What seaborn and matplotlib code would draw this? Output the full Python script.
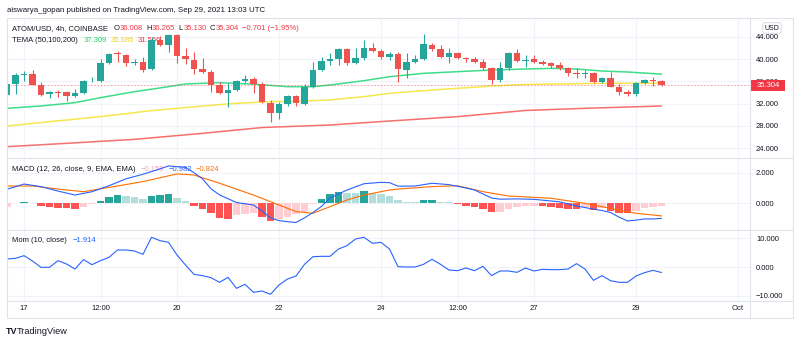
import numpy as np
import pandas as pd
import matplotlib
matplotlib.use("Agg")
import matplotlib.pyplot as plt
import seaborn as sns
from matplotlib.patches import Rectangle
from matplotlib.lines import Line2D
import matplotlib.transforms as mtransforms

# ---------------- data (4h candles, index 0 = Sep 16 16:00) ----------------
opens = [33.55, 35.53, 37.15, 37.27, 35.35, 33.67, 34.09, 34.15, 33.43, 33.85,
         36.01, 36.07, 39.38, 41.06, 40.76, 39.38, 39.44, 38.17, 43.46, 42.56,
         44.36, 40.64, 39.86, 38.17, 37.75, 35.29, 33.85, 34.45, 36.07, 36.43,
         35.47, 32.17, 30.37, 31.87, 33.43, 31.93, 35.05, 38.05, 39.74, 40.04,
         41.78, 39.26, 40.16, 42.08, 41.54, 40.46, 40.88, 38.05, 39.44, 39.98,
         42.56, 41.78, 40.46, 41.06, 40.16, 40.04, 39.56, 38.35, 36.25, 38.35,
         41.06, 39.74, 39.98, 39.56, 39.26, 38.96, 38.47, 37.45, 37.33, 37.57,
         35.95, 36.55, 35.05, 34.15, 33.73, 35.65, 36.25, 36.008]
highs = [35.65, 37.45, 37.93, 38.05, 35.83, 34.33, 34.45, 34.33, 34.63, 36.25,
         36.73, 39.98, 41.06, 41.54, 40.94, 39.98, 40.46, 44.06, 44.18, 44.54,
         44.54, 41.96, 41.36, 40.16, 38.05, 35.95, 35.65, 36.25, 37.15, 36.85,
         35.95, 32.65, 32.35, 33.55, 33.55, 35.53, 39.44, 40.34, 41.06, 41.96,
         41.96, 41.96, 43.46, 42.86, 41.78, 41.36, 41.36, 41.06, 40.76, 44.54,
         42.86, 42.56, 41.96, 41.24, 40.46, 40.34, 39.98, 38.65, 39.56, 41.36,
         41.78, 40.76, 40.76, 39.86, 39.56, 39.56, 38.65, 38.35, 38.05, 37.75,
         36.73, 37.75, 35.53, 34.45, 35.95, 36.43, 36.73, 36.265]
lows = [33.37, 33.73, 36.13, 35.35, 33.37, 32.95, 33.13, 32.53, 33.25, 33.73,
        35.83, 35.95, 39.14, 39.56, 38.77, 38.96, 37.75, 38.05, 42.38, 41.36,
        39.26, 39.14, 37.33, 37.45, 34.15, 33.73, 31.33, 34.33, 35.77, 33.85,
        32.05, 28.74, 29.23, 31.57, 31.57, 31.75, 34.75, 37.93, 38.96, 38.96,
        38.96, 39.14, 39.86, 41.36, 39.98, 39.86, 35.95, 36.55, 39.26, 39.86,
        41.54, 40.16, 39.26, 39.98, 39.56, 39.26, 38.05, 35.53, 35.95, 38.05,
        39.56, 38.65, 39.26, 38.96, 38.35, 38.05, 37.03, 36.55, 36.55, 35.65,
        35.77, 35.05, 33.55, 33.37, 33.37, 35.53, 35.17, 35.130]
closes = [35.47, 37.15, 37.33, 35.35, 33.55, 34.03, 33.97, 33.43, 33.97, 36.07,
          36.13, 39.38, 40.94, 40.88, 39.38, 39.56, 38.05, 43.46, 42.56, 44.36,
          40.58, 39.98, 38.17, 37.63, 35.29, 33.85, 34.45, 36.07, 36.37, 35.47,
          32.35, 30.37, 31.87, 33.43, 32.05, 35.05, 38.05, 39.74, 39.98, 41.78,
          39.26, 40.16, 42.08, 41.54, 40.46, 40.94, 38.17, 39.44, 39.98, 42.68,
          41.78, 40.46, 41.06, 40.16, 40.04, 39.56, 38.35, 36.25, 38.35, 41.06,
          39.68, 39.86, 39.44, 39.14, 38.83, 38.35, 37.45, 37.27, 37.57, 35.95,
          36.55, 35.05, 34.15, 33.73, 35.65, 36.25, 36.07, 35.304]

# TEMA lines (candle index, value)
tema50_idx = [0, 4, 8, 11, 15, 19, 21, 25, 29, 33, 36, 38, 42, 45, 49, 53, 57, 61, 64, 67, 70, 73, 77]
tema50_val = [31.15, 31.57, 32.17, 33.07, 34.15, 35.05, 35.53, 35.77, 35.50, 35.05, 35.05, 35.35,
              36.13, 36.85, 37.45, 37.75, 38.05, 38.23, 38.35, 38.23, 37.87, 37.69, 37.31]
tema100_idx = [0, 5, 11, 17, 23, 27, 31, 35, 38, 42, 45, 49, 53, 57, 61, 70, 77]
tema100_val = [27.96, 28.74, 29.65, 30.73, 31.57, 32.05, 32.35, 32.47, 32.65, 33.25, 33.85,
               34.33, 34.75, 35.17, 35.45, 35.65, 35.685]
tema200_idx = [0, 7, 15, 23, 30, 38, 45, 53, 61, 68, 77]
tema200_val = [24.24, 24.84, 25.56, 26.64, 27.69, 28.14, 28.86, 29.65, 30.76, 31.15, 31.57]

# MACD
macd_idx = [0, 2, 4, 6, 8, 10, 12, 14, 16, 18, 19, 21, 22, 23, 24, 25, 27, 29, 30, 31, 32, 33, 34,
            35, 36, 37, 38, 40, 42, 44, 45, 46, 48, 50, 52, 54, 55, 57, 58, 60, 62, 65, 67, 70,
            71, 72, 73, 74, 75, 76, 77]
macd_val = [0.92, 1.26, 1.09, 0.80, 0.54, 0.76, 1.15, 1.60, 1.90, 2.25, 2.44, 2.35, 2.00, 1.60,
            0.95, 0.55, 0.05, -0.11, -0.50, -0.95, -1.13, -1.20, -1.25, -0.95, -0.60, -0.20, 0.35,
            0.87, 1.28, 1.37, 1.35, 1.12, 1.13, 1.31, 1.22, 1.00, 0.87, 0.35, 0.27, 0.29, 0.26,
            0.10, -0.18, -0.47, -0.60, -0.90, -1.15, -1.10, -1.02, -1.02, -0.982]
signal_idx = [0, 3, 7, 9, 13, 16, 20, 22, 25, 29, 32, 34, 36, 38, 40, 42, 45, 46, 50, 53, 56, 59,
              64, 68, 72, 74, 77]
signal_val = [1.13, 1.13, 0.87, 0.76, 1.13, 1.42, 1.92, 1.85, 1.31, 0.54, -0.11, -0.54, -0.65,
              -0.22, 0.22, 0.54, 0.87, 0.93, 1.09, 1.15, 0.76, 0.48, 0.33, 0.00, -0.44, -0.65, -0.824]
hist = [-0.26, 0.01, 0.11, 0.04, -0.15, -0.24, -0.28, -0.33, -0.35, -0.22,
        -0.07, 0.17, 0.44, 0.54, 0.50, 0.41, 0.26, 0.50, 0.52, 0.63,
        0.33, 0.15, -0.15, -0.37, -0.65, -0.98, -1.02, -0.76, -0.70, -0.65,
        -0.87, -1.13, -1.02, -0.87, -0.70, -0.54, -0.07, 0.28, 0.59, 0.76,
        0.70, 0.68, 0.81, 0.70, 0.59, 0.50, 0.20, 0.11, 0.07, 0.22,
        0.23, 0.11, 0.07, -0.07, -0.15, -0.22, -0.37, -0.59, -0.54, -0.37,
        -0.22, -0.17, -0.15, -0.17, -0.22, -0.28, -0.37, -0.39, -0.26, -0.44,
        -0.33, -0.48, -0.61, -0.62, -0.48, -0.28, -0.22, -0.158]

# Momentum (10)
mom = [2.79, 3.02, 3.95, 2.09, -0.12, -0.12, 2.21, 1.05, -0.70, 2.56,
       0.81, 2.21, 3.37, 5.92, 5.92, 5.57, 4.41, 10.34, 9.18, 8.59,
       4.18, 0.70, -2.56, -3.02, -3.72, -5.34, -3.60, -7.43, -6.04, -8.83,
       -8.36, -9.52, -6.27, -4.18, -3.14, 0.93, 3.60, 3.72, 3.72, 6.27,
       7.43, 9.76, 10.34, 8.25, 8.59, 6.27, 0.12, 0.0, 0.0, 0.93,
       2.67, 0.93, -1.05, -1.28, -0.35, -1.28, 0.23, -3.02, -1.39, -1.39,
       -1.86, -0.35, -1.39, -0.81, -0.93, -0.93, -0.70, 1.16, -0.70, -4.65,
       -3.02, -4.76, -5.34, -5.34, -3.14, -1.97, -1.16, -1.914]

# axis ticks
time_ticks = [2, 11, 20, 32, 44, 53, 62, 74, 86]
time_labels = ["17", "12:00", "20", "22", "24", "12:00", "27", "29", "Oct"]
price_ticks = [24, 28, 32, 36, 40, 44]
macd_ticks = [0, 2]
mom_ticks = [-10, 0, 10]
last_price = 35.304

# ---------------- style ----------------
sns.set_theme(style="white")
plt.rcParams["font.family"] = ["Liberation Sans", "DejaVu Sans"]
plt.rcParams["axes.unicode_minus"] = True

W, H = 800, 343
fig = plt.figure(figsize=(W / 100, H / 100), dpi=100)
fig.patch.set_facecolor("white")


def fx(x):
    return x / W


def fy(y):
    return 1 - y / H


DARK = "#131722"
GRID = "#f0f3fa"
FRAME = "#e0e3eb"
UP = "#26a69a"
DOWN = "#ef5350"

ax_p = fig.add_axes([fx(7), fy(157.5), 743 / W, 139.5 / H])
ax_m = fig.add_axes([fx(7), fy(229.5), 743 / W, 71.5 / H])
ax_o = fig.add_axes([fx(7), fy(300.5), 743 / W, 70.5 / H])

XMAX = 743 / 8.5
for ax in (ax_p, ax_m, ax_o):
    ax.set_facecolor("white")
    ax.set_xlim(0, XMAX)
    for s in ax.spines.values():
        s.set_visible(False)
    ax.set_xticks(time_ticks)
    ax.grid(True, color=GRID, lw=0.8)
    ax.set_axisbelow(True)
    ax.yaxis.tick_right()
    ax.tick_params(axis="y", length=0, pad=4.3, labelsize=5.5, labelcolor=DARK)
    ax.tick_params(axis="x", length=0)
    ax.set_xlabel("")
    ax.set_ylabel("")

ax_p.set_ylim(22.29, 47.42)
ax_m.set_ylim(-1.71, 2.96)
ax_o.set_ylim(-11.67, 12.89)

ax_p.set_yticks(price_ticks, [f"{v:.3f}" for v in price_ticks])
ax_m.set_yticks(macd_ticks, [f"{v:.3f}" for v in macd_ticks])
ax_o.set_yticks(mom_ticks, [f"{v:.3f}".replace("-", "\u2212") for v in mom_ticks])
ax_p.tick_params(axis="x", labelbottom=False)
ax_m.tick_params(axis="x", labelbottom=False)
ax_o.set_xticks(time_ticks, time_labels)
ax_o.tick_params(axis="x", labelsize=5.5, labelcolor=DARK, pad=3.5)

# ---------------- price pane ----------------
idx = np.arange(len(opens))
o = np.array(opens)
c = np.array(closes)
hi = np.array(highs)
lo = np.array(lows)
cols = np.where(c >= o, UP, DOWN)

sns.lineplot(x=tema200_idx, y=tema200_val, ax=ax_p, color="#f6706e", lw=1.1, zorder=2)
sns.lineplot(x=tema100_idx, y=tema100_val, ax=ax_p, color="#f7e64c", lw=1.1, zorder=2)
sns.lineplot(x=tema50_idx, y=tema50_val, ax=ax_p, color="#3fdc8a", lw=1.1, zorder=2)

ax_p.vlines(idx, lo, hi, colors=cols, lw=0.8, zorder=3)
body = np.maximum(np.abs(c - o), 0.12)
ax_p.bar(idx, body, bottom=np.minimum(o, c), width=0.76, color=cols, zorder=4, linewidth=0)

ax_p.axhline(last_price, color="#f23645", ls=(0, (2, 2)), lw=0.6, alpha=0.55, zorder=2)

# last-price label box on the price scale
bt = mtransforms.blended_transform_factory(ax_p.transAxes, ax_p.transData)
ax_p.add_patch(Rectangle((1.0, last_price - 0.99), 35 / 743, 1.98, transform=bt,
                         facecolor="#f23645", edgecolor="none", clip_on=False, zorder=10))
ax_p.text(1 + 18 / 743, last_price, f"{last_price:.3f}", transform=bt, ha="center",
          va="center", color="white", fontsize=5.5, zorder=11, clip_on=False)

# ---------------- MACD pane ----------------
hcols = []
for k, h in enumerate(hist):
    prev = hist[k - 1] if k > 0 else h
    if h >= 0:
        hcols.append("#26a69a" if h > prev else "#b2dfdb")
    else:
        hcols.append("#ff5252" if h < prev else "#ffcdd2")
ax_m.bar(idx, hist, width=0.88, color=hcols, linewidth=0, zorder=2)
sns.lineplot(x=signal_idx, y=signal_val, ax=ax_m, color="#ff6d00", lw=0.8, zorder=3)
sns.lineplot(x=macd_idx, y=macd_val, ax=ax_m, color="#2962ff", lw=0.8, zorder=3)

# ---------------- Momentum pane ----------------
sns.lineplot(x=idx, y=mom, ax=ax_o, color="#2962ff", lw=0.8, zorder=3)

for ax in (ax_p, ax_m, ax_o):
    ax.set_xlabel("")
    ax.set_ylabel("")
    ax.set_xlim(0, XMAX)

# ---------------- frame lines ----------------
def fline(x0, y0, x1, y1):
    fig.add_artist(Line2D([fx(x0), fx(x1)], [fy(y0), fy(y1)], color=FRAME, lw=0.8,
                          transform=fig.transFigure))

fline(7, 18, 793, 18)
fline(7, 318, 793, 318)
fline(7, 18, 7, 318)
fline(793, 18, 793, 318)
fline(750, 18, 750, 318)
fline(7, 157.8, 793, 157.8)
fline(7, 229.8, 793, 229.8)
fline(7, 300.5, 793, 300.5)

# ---------------- texts ----------------
renderer = fig.canvas.get_renderer()


def seq_text(ax, x_px, y_px, pieces, size=5.5):
    x = x_px
    for s, col, gap in pieces:
        t = ax.text(fx(x), fy(y_px), s, transform=fig.transFigure, color=col, fontsize=size,
                    ha="left", va="center", zorder=1, clip_on=False)
        bb = t.get_window_extent(renderer=renderer)
        x = bb.x1 + gap


RED = "#f23645"
seq_text(ax_p, 12.5, 28.5, [("ATOM/USD, 4h, COINBASE", DARK, 5), ("O", DARK, 0.5),
                            ("36.008", RED, 3), ("H", DARK, 0.5), ("36.265", RED, 3),
                            ("L", DARK, 0.5), ("35.130", RED, 3), ("C", DARK, 0.5),
                            ("35.304", RED, 3), ("\u22120.701 (\u22121.95%)", RED, 0)])
seq_text(ax_p, 12.5, 40, [("TEMA (50,100,200)", DARK, 5), ("37.309", "#1fd16a", 4),
                          ("35.685", "#f2d21a", 4), ("31.566", RED, 0)])
seq_text(ax_m, 12.5, 169.3, [("MACD (12, 26, close, 9, EMA, EMA)", DARK, 5),
                             ("\u22120.158", "#f7a1a9", 4), ("\u22120.982", "#2962ff", 4),
                             ("\u22120.824", "#ff6d00", 0)])
seq_text(ax_o, 12.5, 240, [("Mom (10, close)", DARK, 5), ("\u22121.914", "#2962ff", 0)])

fig.text(fx(7), fy(10), "aiswarya_gopan published on TradingView.com, Sep 29, 2021 13:03 UTC",
         ha="left", va="center", fontsize=5.7, color=DARK)
fig.text(fx(772), fy(28), "USD", ha="center", va="center", fontsize=5, color=DARK,
         bbox=dict(boxstyle="round,pad=0.25", fc="white", ec="#d1d4dc", lw=0.6), zorder=20)
fig.text(fx(6), fy(331), "TV", ha="left", va="center", fontsize=6.5, color=DARK,
         fontweight="heavy")
fig.text(fx(17), fy(331), "TradingView", ha="left", va="center", fontsize=6.6, color=DARK)

fig.savefig("out.png", dpi=100, facecolor="white")
